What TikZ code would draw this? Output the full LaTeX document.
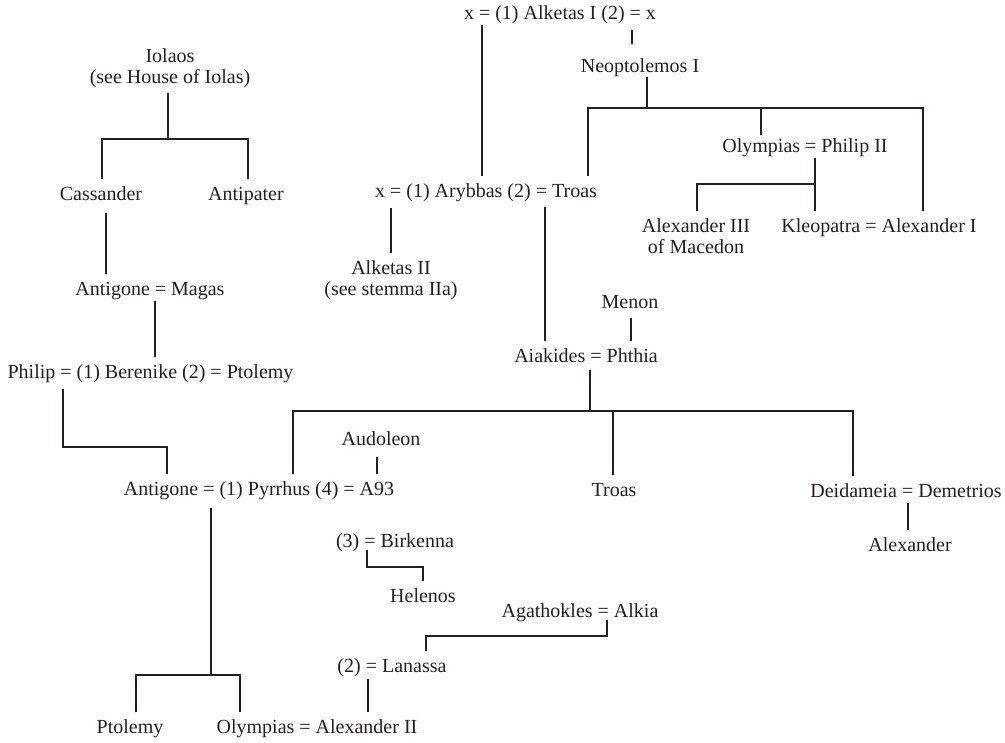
\documentclass[tikz,border=0pt]{standalone}
\usepackage{fontspec}
\setmainfont{Liberation Serif}
\definecolor{ink}{RGB}{35,31,32}
\tikzset{
  person/.style={anchor=base, inner sep=0pt, outer xsep=0pt, outer ysep=5.5pt,
    text height=10pt, text depth=3pt, text=ink, font=\fontsize{15}{15.75}\selectfont},
  person2/.style={anchor=base, inner sep=0pt, outer xsep=0pt, outer ysep=5.5pt,
    align=center, text=ink, font=\fontsize{15}{15.75}\selectfont},
  tie/.style={draw=ink, line width=0.8pt}
}
\begin{document}
\begin{tikzpicture}[x=0.75pt, y=-0.75pt]
\useasboundingbox (0,0) rectangle (1005,742);

% ---- people (two-line names are placed by their last baseline) ----
\node[person2] (iolaos)    at (170,84)  {Iolaos\\(see House of Iolas)};
\node[person]  (cassander) at (101,200) {Cassander};
\node[person]  (antipater) at (246,200) {Antipater};
\node[person]  (antmagas)  at (150,295) {Antigone = Magas};
\node[person]  (berenike)  at (150.5,378) {Philip = (1) Berenike (2) = Ptolemy};
\node[person]  (pyrrhus)   at (259,495) {Antigone = (1) Pyrrhus (4) = A93};
\node[person]  (ptolemy)   at (130,733) {Ptolemy};
\node[person]  (olyalex)   at (317,733) {Olympias = Alexander II};

\node[person]  (alketasI)  at (560,20)  {x = (1) Alketas I (2) = x};
\node[person]  (neop)      at (640,73)  {Neoptolemos I};
\node[person]  (arybbas)   at (486,197) {x = (1) Arybbas (2) = Troas};
\node[person2] (alketasII) at (391,295) {Alketas II\\(see stemma IIa)};
\node[person]  (olyphil)   at (805,152) {Olympias = Philip II};
\node[person2] (alexIII)   at (696,253) {Alexander III\\of Macedon};
\node[person]  (kleo)      at (879,232) {Kleopatra = Alexander I};

\node[person]  (menon)     at (630,308) {Menon};
\node[person]  (aiakides)  at (586,362) {Aiakides = Phthia};
\node[person]  (audoleon)  at (381,445) {Audoleon};
\node[person]  (troas)     at (614,496) {Troas};
\node[person]  (deid)      at (906,497) {Deidameia = Demetrios};
\node[person]  (alexander) at (910,551) {Alexander};

\node[person]  (birkenna)  at (395,547) {(3) = Birkenna};
\node[person]  (helenos)   at (423,602) {Helenos};
\node[person]  (agath)     at (580,617) {Agathokles = Alkia};
\node[person]  (lanassa)   at (392,672) {(2) = Lanassa};

% ---- descent points below each couple ----
\coordinate (iolD) at (168,93);
\coordinate (casD) at (106,213);
\coordinate (magD) at (155,301);
\coordinate (berD) at (63,389);
\coordinate (pyrD) at (211,508);
\coordinate (alkD1) at (482,25);
\coordinate (alkD2) at (632,30);
\coordinate (neoD) at (647,77);
\coordinate (olpD) at (815,158);
\coordinate (aryD1) at (391,208);
\coordinate (aryD2) at (545,207);
\coordinate (menD) at (631,318);
\coordinate (aiaD) at (590,370);
\coordinate (audD) at (377,457);
\coordinate (deiD) at (908,503);
\coordinate (birD) at (367,550);
\coordinate (agaD) at (607,620);
\coordinate (lanD) at (368,679);

% ---- sibling bars ----
\coordinate (iolL) at (102,139);  \coordinate (iolR) at (248,139);
\coordinate (berR) at (167,447);
\coordinate (pyrL) at (136,675);  \coordinate (pyrR) at (240,675);
\coordinate (neoL) at (588,108);  \coordinate (neoM) at (761,108); \coordinate (neoR) at (923,108);
\coordinate (olpL) at (697,184);
\coordinate (aiaL) at (293,411);  \coordinate (aiaM) at (613,411); \coordinate (aiaR) at (853,411);
\coordinate (birR) at (423,567);
\coordinate (agaL) at (426,636);

% ---- Iolaos ----
\draw[tie] (iolD) -- (iolD |- iolL);
\draw[tie] (cassander.north -| iolL) -- (iolL) -- (iolR) -- (antipater.north -| iolR);
\draw[tie] (casD) -- (casD |- antmagas.north);
\draw[tie] (magD) -- (magD |- berenike.north);
\draw[tie] (berD) |- (berR) -- (berR |- pyrrhus.north);

% ---- Pyrrhus' children ----
\draw[tie] (pyrD) -- (pyrD |- pyrL);
\draw[tie] (ptolemy.north -| pyrL) -- (pyrL) -- (pyrR) -- (olyalex.north -| pyrR);
\draw[tie] (lanD) -- (lanD |- olyalex.north);

% ---- Alketas I and Neoptolemos I ----
\draw[tie] (alkD1) -- (alkD1 |- arybbas.north);
\draw[tie, shorten >=6.5pt] (alkD2) -- (alkD2 |- neop.north);
\draw[tie] (neoD) -- (neoD |- neoL);
\draw[tie] (arybbas.north -| neoL) -- (neoL) -- (neoR) -- (kleo.north -| neoR);
\draw[tie, shorten >=-3pt] (neoM) -- (neoM |- olyphil.north);
\draw[tie] (olpD) -- (olpD |- kleo.north);
\draw[tie] (olpD |- olpL) -- (olpL) -- (olpL |- kleo.north);

% ---- Arybbas ----
\draw[tie] (aryD1) -- (aryD1 |- alketasII.north);
\draw[tie] (aryD2) -- (aryD2 |- aiakides.north);
\draw[tie] (menD) -- (menD |- aiakides.north);

% ---- Aiakides' children ----
\draw[tie] (aiaD) -- (aiaD |- aiaL);
\draw[tie] (pyrrhus.north -| aiaL) -- (aiaL) -- (aiaR) -- (deid.north -| aiaR);
\draw[tie] (aiaM) -- (aiaM |- troas.north);
\draw[tie] (audD) -- (audD |- pyrrhus.north);
\draw[tie] (deiD) -- (deiD |- alexander.north);

% ---- Birkenna and Lanassa ----
\draw[tie] (birD) |- (birR) -- (birR |- helenos.north);
\draw[tie] (agaD) |- (agaL) -- (agaL |- lanassa.north);
\end{tikzpicture}
\end{document}
